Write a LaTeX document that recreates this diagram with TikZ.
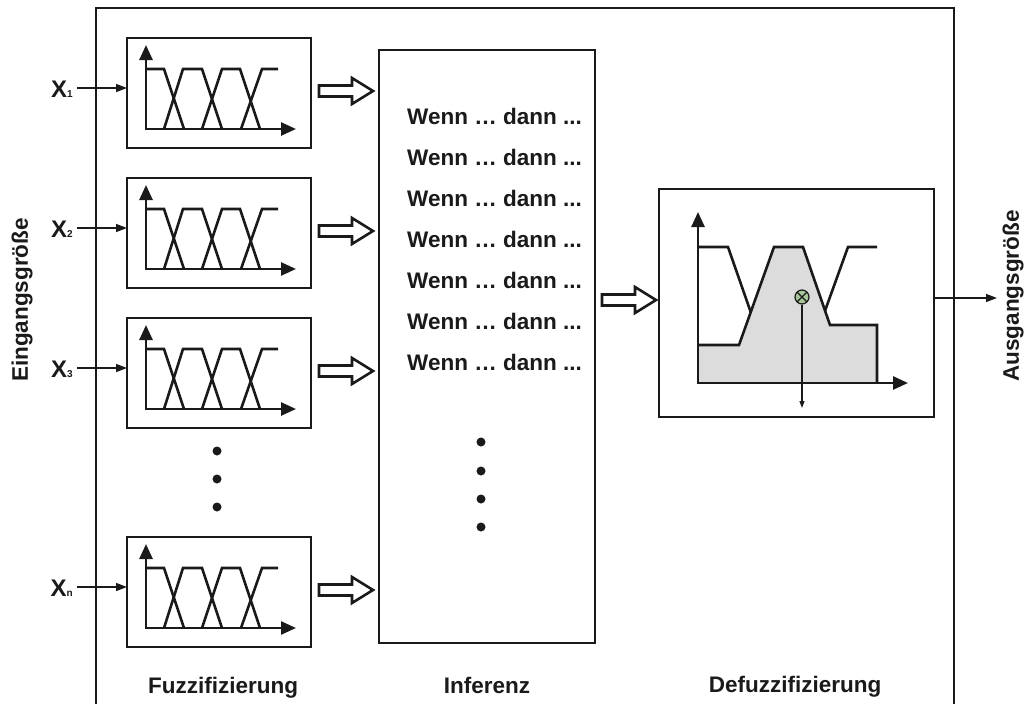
\documentclass[tikz,border=0pt]{standalone}
\usepackage{fontspec}
\setmainfont{Liberation Sans}
\usetikzlibrary{arrows.meta,calc}
\definecolor{ink}{HTML}{1A1A1A}
\definecolor{areagray}{HTML}{DCDCDC}
\definecolor{centroidfill}{HTML}{A7C79A}

\begin{document}
\begin{tikzpicture}[x=1pt,y=-1pt,line join=miter,
  thickline/.style={draw=ink,line width=2.6pt},
  panel/.style={thickline,rectangle,inner sep=0pt,outer sep=0pt,fill=white},
  lbl/.style={font=\fontsize{22.5}{27}\selectfont\bfseries,text=ink,inner sep=0pt},
  axistip/.style={{Triangle[length=15pt,width=13pt]}-{Triangle[length=15pt,width=13pt]}},
  feed/.style={draw=ink,line width=1.5pt,-{Triangle[length=11pt,width=8pt]}},
  dotmark/.style={circle,fill=ink,inner sep=0pt,minimum size=9pt},
  fuzzyset/.pic={
    \draw[thickline,axistip] (19,7) -- (19,91) -- (169,91);
    \draw[thickline] (19,31) -- (37,31) -- (57,91);
    \draw[thickline] (37,91) -- (56,31) -- (75,31) -- (95,91);
    \draw[thickline] (75,91) -- (95,31) -- (113,31) -- (133,91);
    \draw[thickline] (114,91) -- (135,31) -- (151,31);
  },
  hollowarrow/.pic={
    \draw[thickline,fill=white] (0,-5.5) -- (33,-5.5) -- (33,-13) -- (54,0)
      -- (33,13) -- (33,5.5) -- (0,5.5) -- cycle;
  }]
\useasboundingbox (0,0) rectangle (1026,704);

% outer frame, open at the bottom
\draw[thickline] (96,704) -- (96,8) -- (954,8) -- (954,704);

% fuzzification blocks
\foreach \i/\t/\s in {1/38/1,2/178/2,3/318/3,n/537/n}{
  \node[panel,minimum width=184pt,minimum height=110pt,anchor=north west]
    (f\i) at (127,\t) {};
  \pic at (f\i.north west) {fuzzyset};
  \coordinate (in\i) at (77,\t+50);
  \draw[feed] (in\i) -- (in\i -| f\i.west);
  \node[lbl,anchor=base east] (x\i) at ($(in\i)+(-4,9)$)
    {\fontsize{24}{27}\selectfont X{\fontsize{10}{10}\selectfont\s}};
}

% dots between the third and last block
\foreach \y [count=\k] in {451,479,507}
  \node[dotmark] (fd\k) at (217,\y) {};

% inference block
\node[panel,minimum width=216pt,minimum height=593pt,anchor=north west]
  (inf) at (379,50) {};
\foreach \k in {0,...,6}
  \node[lbl,anchor=base west] (rule\k) at (407,124+41*\k) {Wenn … dann ...};
\foreach \y [count=\k] in {442,471,499,527}
  \node[dotmark] (id\k) at (481,\y) {};

% block arrows into the inference block
\foreach \i in {1,2,3,n}
  \pic at ($(f\i.east)+(8,-2)$) {hollowarrow};

% defuzzification block
\node[panel,minimum width=275pt,minimum height=228pt,anchor=north west]
  (dz) at (659,189) {};
\pic at ($(inf.east |- dz.west)+(7,-3)$) {hollowarrow};

\begin{scope}[shift={(dz.north west)}]
  \fill[areagray] (39,156) -- (80,156) -- (115,58) -- (144,58) -- (171,136)
    -- (218,136) -- (218,194) -- (39,194) -- cycle;
  \draw[thickline] (39,156) -- (80,156) -- (115,58) -- (144,58) -- (171,136)
    -- (218,136) -- (218,194);
  \draw[thickline] (39,58) -- (69,58)
    -- (intersection of 69,58--91,121 and 80,156--115,58);
  \draw[thickline] (intersection of 189,58--167,119 and 144,58--171,136)
    -- (189,58) -- (218,58);
  \draw[thickline,axistip] (39,23) -- (39,194) -- (249,194);
  \node[circle,draw=ink,line width=1.2pt,fill=centroidfill,minimum size=14pt,
        inner sep=0pt,
        path picture={\draw[ink,line width=1.2pt]
          (path picture bounding box.north west) -- (path picture bounding box.south east)
          (path picture bounding box.north east) -- (path picture bounding box.south west);}]
    (cog) at (143,108) {};
  \coordinate (cogfoot) at (143,219);
\end{scope}
\draw[draw=ink,line width=1.2pt,-{Triangle[length=7pt,width=5pt]}] (cog.south) -- (cogfoot);

% output
\coordinate (out) at (997,298);
\draw[feed] (dz.east |- out) -- (out);

% side and bottom labels
\node[lbl,rotate=90] (inlabel) at (22,300) {Eingangsgröße};
\node[lbl,rotate=90] (outlabel) at (1013,296) {Ausgangsgröße};
\node[lbl,anchor=base] (lfuzz) at (223,693) {Fuzzifizierung};
\node[lbl,anchor=base] (linf) at (487,693) {Inferenz};
\node[lbl,anchor=base] (ldefuzz) at (795,692) {Defuzzifizierung};
\end{tikzpicture}
\end{document}
